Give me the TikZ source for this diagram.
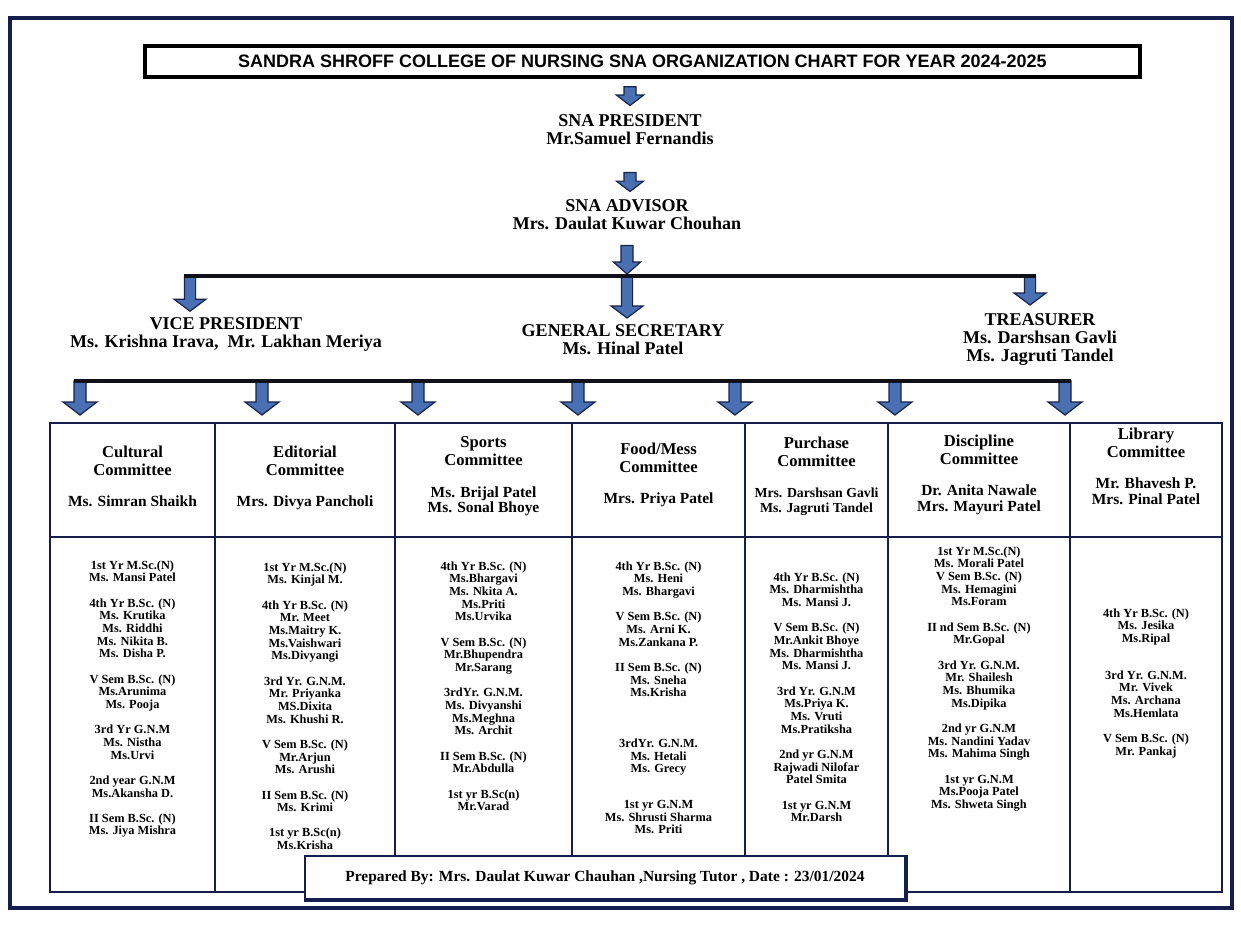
\documentclass[tikz,border=0pt]{standalone}
\usepackage{fontspec}
\setmainfont{Liberation Serif}
\newfontfamily\headsans{Liberation Sans}
\usetikzlibrary{calc}
\definecolor{arrowblue}{RGB}{72,112,178}
\definecolor{arrowedge}{RGB}{24,34,74}
\definecolor{tablenavy}{RGB}{22,30,78}
\definecolor{barblack}{RGB}{16,16,24}
\newcommand{\cmname}[1]{{\fontsize{11}{12}\selectfont #1}}
\newcommand{\cmnamesm}[1]{{\fontsize{9.8}{11}\selectfont #1}}
\tikzset{
  titlebox/.style={draw=black, line width=0.9mm, inner sep=0pt, minimum width=248.75mm, minimum height=7.75mm,
    font={\headsans\bfseries\fontsize{12.8}{14}\selectfont}},
  officer/.style={align=center, inner sep=0pt, font={\bfseries\fontsize{12.8}{13}\selectfont}},
  cmtehead/.style={align=center, inner sep=0pt, anchor=north, font={\bfseries\fontsize{11.8}{12.6}\selectfont}},
  members/.style={align=center, inner sep=0pt, anchor=north, font={\bfseries\fontsize{8.8}{9}\selectfont}},
  prepbox/.style={draw=tablenavy, fill=white, line width=0.4mm, inner sep=0pt, minimum width=150mm,
    minimum height=10.75mm, font={\bfseries\fontsize{11}{12}\selectfont}},
  bar/.style={draw=barblack, line width=1mm},
  gridline/.style={draw=tablenavy, line width=0.5mm},
  blockarrow/.style n args={3}{fill=arrowblue, draw=arrowedge, line width=0.3mm, line join=miter,
    to path={let \p1=(\tikztostart), \p2=(\tikztotarget) in
      (\x1-#1,\y1) -- (\x1-#1,\y2+#3) -- (\x1-#2,\y2+#3) -- (\x1,\y2)
      -- (\x1+#2,\y2+#3) -- (\x1+#1,\y2+#3) -- (\x1+#1,\y1) -- cycle}}
}

\begin{document}
\begin{tikzpicture}[x=0.25mm, y=-0.25mm]
\useasboundingbox (0,0) rectangle (1241,925);
%% page frame
\draw[line width=0.9mm, draw=tablenavy] (10,18) rectangle (1232,908);

%% heading and office bearers
\node[titlebox] (title) at (642.5,61.5) {SANDRA SHROFF COLLEGE OF NURSING SNA ORGANIZATION CHART FOR YEAR 2024-2025};
\node[officer] (pres) at (630,130) {SNA PRESIDENT\\Mr.Samuel Fernandis};
\node[officer] (adv) at (627,215) {SNA ADVISOR\\Mrs. Daulat Kuwar Chouhan};
\node[officer] (vp) at (226,334.5) {VICE PRESIDENT\\Ms. Krishna Irava,\ \ Mr. Lakhan Meriya};
\node[officer] (gs) at (623,339.5) {GENERAL SECRETARY\\Ms. Hinal Patel};
\node[officer] (tr) at (1040,339.5) {TREASURER\\Ms. Darshsan Gavli\\Ms. Jagruti Tandel};

\coordinate (toVP) at (190,276);
\coordinate (toGS) at (627,276);
\coordinate (toTR) at (1030,276);

\draw[blockarrow={1.5mm}{3.4mm}{2.6mm}] ([yshift=-2mm]pres.north |- title.south) to ([yshift=2.25mm]pres.north);
\draw[blockarrow={1.5mm}{3.4mm}{2.6mm}] ([yshift=-6.75mm]pres.south) to ([yshift=2mm]adv.north);
\draw[blockarrow={1.5mm}{3.4mm}{3mm}] ([yshift=-3.75mm]adv.south) to ([yshift=0.5mm]toGS);
\draw[blockarrow={1.4mm}{4mm}{3mm}] (toVP) to ([yshift=1.5mm]toVP |- vp.north);
\draw[blockarrow={1.4mm}{4mm}{3mm}] (toGS) to ([yshift=1.5mm]toGS |- gs.north);
\draw[blockarrow={1.4mm}{4mm}{3mm}] (toTR) to ([yshift=2mm]toTR |- tr.north);
\draw[bar] (184,276) -- (1036,276);

%% committee table
\coordinate (tabNW) at (50,423);
\coordinate (tabSE) at (1222,892);
\foreach \x [count=\i] in {80,262,418,578,735,895,1065}
  \coordinate (drop\i) at (\x,381);
\foreach \i in {1,...,7}
  \draw[blockarrow={1.5mm}{4.25mm}{3.25mm}] (drop\i) to ([yshift=2mm]drop\i |- tabNW);
\draw[bar] (74,381) -- (1071,381);

\draw[gridline] (tabNW) rectangle (tabSE);
\draw[gridline] (50,537) -- (1222,537);
\foreach \x in {215,395,572,745,888,1070}
  \draw[gridline] (\x,423) -- (\x,892);

\node[cmtehead] (cul) at (132.5,445.7) {Cultural\\Committee\\[10pt]\cmname{Ms. Simran Shaikh}};
\node[cmtehead] (edi) at (305,445.7) {Editorial\\Committee\\[10pt]\cmname{Mrs. Divya Pancholi}};
\node[cmtehead] (spo) at (483.5,436.7) {Sports\\Committee\\[10pt]\cmname{Ms. Brijal Patel}\\[-1.6pt]\cmname{Ms. Sonal Bhoye}};
\node[cmtehead] (foo) at (658.5,442.7) {Food/Mess\\Committee\\[10pt]\cmname{Mrs. Priya Patel}};
\node[cmtehead] (pur) at (816.5,436.7) {Purchase\\Committee\\[10pt]\cmnamesm{Mrs. Darshsan Gavli}\\[-2pt]\cmnamesm{Ms. Jagruti Tandel}};
\node[cmtehead] (dis) at (979,434.7) {Discipline\\Committee\\[10pt]\cmname{Dr. Anita Nawale}\\[-1.6pt]\cmname{Mrs. Mayuri Patel}};
\node[cmtehead] (lib) at (1146,427.7) {Library\\Committee\\[10pt]\cmname{Mr. Bhavesh P.}\\[-1.6pt]\cmname{Mrs. Pinal Patel}};

%% members of each committee
\node[members] (culm) at (132.5,560.4) {1st Yr M.Sc.(N)\\Ms. Mansi Patel\\[9pt]
  4th Yr B.Sc. (N)\\Ms. Krutika\\Ms. Riddhi\\Ms. Nikita B.\\Ms. Disha P.\\[9pt]
  V Sem B.Sc. (N)\\Ms.Arunima\\Ms. Pooja\\[9pt]
  3rd Yr G.N.M\\Ms. Nistha\\Ms.Urvi\\[9pt]
  2nd year G.N.M\\Ms.Akansha D.\\[9pt]
  II Sem B.Sc. (N)\\Ms. Jiya Mishra};
\node[members] (edim) at (305,562.4) {1st Yr M.Sc.(N)\\Ms. Kinjal M.\\[9pt]
  4th Yr B.Sc. (N)\\Mr. Meet\\Ms.Maitry K.\\Ms.Vaishwari\\Ms.Divyangi\\[9pt]
  3rd Yr. G.N.M.\\Mr. Priyanka\\MS.Dixita\\Ms. Khushi R.\\[9pt]
  V Sem B.Sc. (N)\\Mr.Arjun\\Ms. Arushi\\[9pt]
  II Sem B.Sc. (N)\\Ms. Krimi\\[9pt]
  1st yr B.Sc(n)\\Ms.Krisha};
\node[members] (spom) at (483.5,561.4) {4th Yr B.Sc. (N)\\Ms.Bhargavi\\Ms. Nkita A.\\Ms.Priti\\Ms.Urvika\\[9pt]
  V Sem B.Sc. (N)\\Mr.Bhupendra\\Mr.Sarang\\[9pt]
  3rdYr. G.N.M.\\Ms. Divyanshi\\Ms.Meghna\\Ms. Archit\\[9pt]
  II Sem B.Sc. (N)\\Mr.Abdulla\\[9pt]
  1st yr B.Sc(n)\\Mr.Varad};
\node[members] (foom) at (658.5,561.4) {4th Yr B.Sc. (N)\\Ms. Heni\\Ms. Bhargavi\\[9pt]
  V Sem B.Sc. (N)\\Ms. Arni K.\\Ms.Zankana P.\\[9pt]
  II Sem B.Sc. (N)\\Ms. Sneha\\Ms.Krisha\\[27pt]
  3rdYr. G.N.M.\\Ms. Hetali\\Ms. Grecy\\[16.5pt]
  1st yr G.N.M\\Ms. Shrusti Sharma\\Ms. Priti};
\node[members] (purm) at (816.5,572.4) {4th Yr B.Sc. (N)\\Ms. Dharmishtha\\Ms. Mansi J.\\[9pt]
  V Sem B.Sc. (N)\\Mr.Ankit Bhoye\\Ms. Dharmishtha\\Ms. Mansi J.\\[9pt]
  3rd Yr. G.N.M\\Ms.Priya K.\\Ms. Vruti\\Ms.Pratiksha\\[9pt]
  2nd yr G.N.M\\Rajwadi Nilofar\\Patel Smita\\[9pt]
  1st yr G.N.M\\Mr.Darsh};
\node[members] (dism) at (979,546.4) {1st Yr M.Sc.(N)\\Ms. Morali Patel\\V Sem B.Sc. (N)\\Ms. Hemagini\\Ms.Foram\\[9pt]
  II nd Sem B.Sc. (N)\\Mr.Gopal\\[9pt]
  3rd Yr. G.N.M.\\Mr. Shailesh\\Ms. Bhumika\\Ms.Dipika\\[9pt]
  2nd yr G.N.M\\Ms. Nandini Yadav\\Ms. Mahima Singh\\[9pt]
  1st yr G.N.M\\Ms.Pooja Patel\\Ms. Shweta Singh};
\node[members] (libm) at (1146,608.4) {4th Yr B.Sc. (N)\\Ms. Jesika\\Ms.Ripal\\[17pt]
  3rd Yr. G.N.M.\\Mr. Vivek\\Ms. Archana\\Ms.Hemlata\\[9pt]
  V Sem B.Sc. (N)\\Mr. Pankaj};

%% footer box sits over the bottom rule
\node[prepbox] (prep) at (605,877.5) {Prepared By: Mrs. Daulat Kuwar Chauhan ,Nursing Tutor , Date : 23/01/2024};
\draw[line width=1mm, draw=tablenavy] (prep.north east) -- (prep.south east) -- (prep.south west);
\end{tikzpicture}
\end{document}
